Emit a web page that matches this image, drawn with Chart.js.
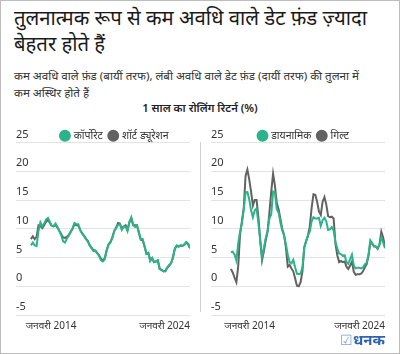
<!DOCTYPE html>
<html><head><meta charset="utf-8">
<script src="https://cdn.jsdelivr.net/npm/chart.js@4.4.0/dist/chart.umd.min.js"></script>
<style>
html,body{margin:0;padding:0;background:#fff;}
#wrap{position:relative;width:400px;height:354px;box-sizing:border-box;border:1px solid #bdbdbd;overflow:hidden;font-family:"Noto Sans","Noto Sans Devanagari",sans-serif;}
#title{position:absolute;left:13px;top:3px;width:385px;font-size:20.3px;line-height:26px;color:#1a1a1a;}
#sub{position:absolute;left:13px;top:66px;width:385px;font-size:11.6px;line-height:17px;color:#333;white-space:nowrap;}
#ctitle{position:absolute;left:0;top:99px;width:398px;text-align:center;font-size:11.2px;font-weight:600;color:#222;}
#lbox{position:absolute;left:-1px;top:110px;width:200px;height:222px;}
#rbox{position:absolute;left:199px;top:110px;width:200px;height:222px;}
#sep{position:absolute;left:199px;top:141px;width:1px;height:170px;background:#d0d0d0;}
#logo{position:absolute;right:14px;top:328px;font-size:15px;font-weight:700;color:#2f63b0;}
#logo span{font-weight:400;color:#7fa3d6;font-size:14px;}
</style></head>
<body>
<div id="wrap">
  <div id="title">तुलनात्मक रूप से कम अवधि वाले डेट फ़ंड ज़्यादा बेहतर होते हैं</div>
  <div id="sub">कम अवधि वाले फ़ंड (बायीं तरफ), लंबी अवधि वाले डेट फ़ंड (दायीं तरफ) की तुलना में<br>कम अस्थिर होते हैं</div>
  <div id="ctitle">1 साल का रोलिंग रिटर्न (%)</div>
  <div id="lbox"><canvas id="cl" width="200" height="222"></canvas></div>
  <div id="sep"></div>
  <div id="rbox"><canvas id="cr" width="200" height="222"></canvas></div>
  <div id="logo"><span>☑</span>धनक</div>
</div>
<script>
// Bi-monthly observations, Jan 2010 .. Jan 2024
const startYear = 2010;
const stepMonths = 2;
const xTickYears = [2014, 2024];
const xTickPrefix = 'जनवरी';
const yMin = -5, yMax = 25, yStep = 5;

const corporate = [7.1,7.6,7.1,7.0,9.6,11.1,10.4,10.9,11.6,11.9,11.2,10.5,10.5,10.9,10.3,9.6,8.9,7.8,7.6,8.3,
  8.8,9.4,10.1,11.0,10.8,10.8,9.8,9.2,8.8,8.2,7.8,7.1,6.6,6.1,6.2,5.7,5.3,4.5,4.3,4.7,
  6.2,7.2,7.6,8.4,9.6,10.1,10.7,10.8,9.8,10.3,10.4,9.6,11.2,12.0,10.7,10.3,10.6,9.4,8.2,8.2,
  7.0,5.6,5.8,4.4,4.9,4.2,4.3,4.5,3.0,2.9,2.6,2.7,3.3,3.7,4.0,5.0,6.6,7.1,6.9,7.1,
  7.0,7.3,7.7,7.4,6.8];
const shortDuration = [8.2,8.7,8.2,8.6,10.6,10.5,10.1,10.6,11.2,11.6,11.0,10.5,10.4,10.7,10.2,9.6,9.1,8.5,8.4,8.6,
  8.9,9.5,10.0,10.8,10.6,10.6,9.8,9.2,8.8,8.3,7.9,7.2,6.7,6.3,6.2,5.8,5.4,4.8,4.5,4.9,
  6.3,7.3,7.7,8.5,9.6,10.2,11.0,10.9,10.0,10.4,10.6,9.8,11.1,11.8,10.6,10.6,10.6,9.3,8.1,8.0,
  6.9,5.7,5.8,4.5,4.9,4.2,4.3,4.5,3.0,2.8,2.6,2.6,3.2,3.6,4.0,5.0,6.5,7.0,6.9,7.1,
  7.0,7.2,7.6,7.3,6.6];
const dynamic = [5.9,6.0,5.5,4.5,7.5,9.5,10.9,13.3,16.3,16.4,15.1,13.2,12.0,13.2,13.5,11.0,7.9,5.0,6.7,8.4,
  9.6,11.8,12.5,16.5,16.3,13.4,12.8,11.1,9.7,8.8,7.3,5.5,4.2,4.0,4.6,3.3,2.2,2.1,2.2,3.3,
  6.7,7.9,8.8,9.5,11.3,12.0,11.8,11.8,11.9,10.5,11.5,11.9,11.3,9.8,9.9,10.3,9.7,7.7,6.6,5.7,
  5.6,5.3,5.4,4.2,3.9,4.7,5.5,3.6,3.1,3.2,3.2,3.1,3.3,3.8,4.1,5.5,8.0,7.5,7.0,6.9,
  6.6,7.2,8.5,7.6,6.6];
const gilt = [3.0,2.4,1.5,0.7,3.5,9.0,11.3,13.6,19.2,20.3,18.6,16.5,14.0,15.0,15.0,12.0,8.0,4.5,6.1,8.0,
  9.5,12.8,16.5,19.6,17.5,14.5,13.4,11.7,10.0,8.9,6.7,3.4,3.7,3.1,2.6,1.4,0.1,0.0,0.7,2.6,
  6.8,7.8,8.8,10.4,13.6,16.0,15.9,14.7,13.0,12.4,14.7,15.5,14.2,12.2,12.0,12.1,11.8,7.4,5.4,4.2,
  4.4,4.2,4.3,3.4,3.0,3.6,4.3,2.5,2.0,2.1,2.1,2.2,2.6,3.3,3.8,5.3,7.6,7.4,6.9,6.9,
  6.5,7.3,9.5,8.5,6.8];

const GREEN = '#2bb38a', GREY = '#626262';
const FONT = '"Noto Sans","Noto Sans Devanagari",sans-serif';
const xs = corporate.map((_, i) => startYear + i * stepMonths / 12);
const pts = arr => arr.map((v, i) => ({x: xs[i], y: v}));

const legendShift = {
  id: 'legendShift',
  afterLayout(chart, args, opts) {
    const lg = chart.legend;
    if (lg) { lg.left += opts.dx; lg.right += opts.dx; lg.top += opts.dy; lg.bottom += opts.dy; }
  }
};

function makeChart(id, names, series, xMin, pad, dx) {
  return new Chart(document.getElementById(id), {
    type: 'line',
    data: {
      datasets: [
        {label: names[0], data: pts(series[0]), borderColor: GREEN, backgroundColor: GREEN, borderWidth: 2, pointRadius: 0, tension: 0},
        {label: names[1], data: pts(series[1]), borderColor: GREY, backgroundColor: GREY, borderWidth: 2, pointRadius: 0, tension: 0}
      ]
    },
    options: {
      responsive: false, animation: false,
      layout: {padding: pad},
      plugins: {
        legend: {display: true, position: 'top',
          labels: {usePointStyle: true, pointStyle: 'circle', boxWidth: 7, boxHeight: 7, padding: 7,
            font: {family: FONT, size: 10.5}, color: '#333'}},
        tooltip: {enabled: false},
        legendShift: {dx: dx, dy: 8.5}
      },
      scales: {
        x: {type: 'linear', min: xMin, max: 2024,
          grid: {display: false, drawTicks: false}, border: {display: false},
          afterBuildTicks: s => { s.ticks = xTickYears.map(v => ({value: v})); },
          ticks: {align: 'end', maxRotation: 0, autoSkip: false, padding: 5, color: '#333',
            font: {family: FONT, size: 10}, callback: v => xTickPrefix + ' ' + v}},
        y: {min: yMin, max: yMax,
          grid: {color: '#e3e3e3', drawTicks: false, lineWidth: 1}, border: {display: false},
          ticks: {stepSize: yStep, mirror: true, padding: 0, labelOffset: -8, color: '#333',
            font: {family: FONT, size: 11}}}
      }
    },
    plugins: [legendShift]
  });
}

const cl = makeChart('cl', ['कॉर्पोरेट', 'शॉर्ट ड्यूरेशन'], [corporate, shortDuration], 2008.6875, {left: 16, right: 10, top: 0, bottom: 0}, 12);
const cr = makeChart('cr', ['डायनामिक', 'गिल्ट'], [dynamic, gilt], 2008.194, {left: 11, right: 15, top: 0, bottom: 0}, 6);
// place each panel so its top gridline sits at the same height as in the original layout
document.getElementById('lbox').style.top = (141 - cl.chartArea.top) + 'px';
document.getElementById('rbox').style.top = (141 - cr.chartArea.top) + 'px';
</script>
</body></html>
